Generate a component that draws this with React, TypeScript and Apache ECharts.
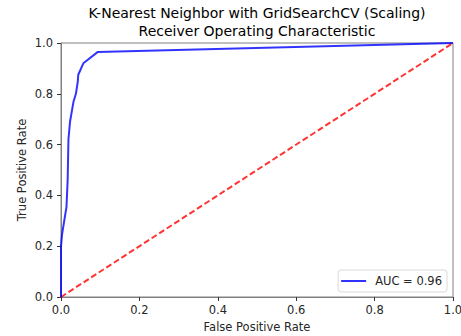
import React, { useEffect, useRef } from "react";
import * as echarts from "echarts";

// ROC curve of the tuned K-NN classifier
const fpr = [0, 0, 0.003, 0.014, 0.017, 0.019, 0.023, 0.032, 0.038, 0.043, 0.044, 0.057, 0.094, 1];
const tpr = [0, 0.2, 0.25, 0.355, 0.46, 0.62, 0.69, 0.77, 0.8, 0.85, 0.875, 0.92, 0.965, 1];
const chanceLine = [
  [0, 0],
  [1, 1],
];
const aucLabel = "AUC = 0.96";
const titleLines = ["K-Nearest Neighbor with GridSearchCV (Scaling)", "Receiver Operating Characteristic"];

const FONT = "DejaVu Sans";

export default function App() {
  const ref = useRef<HTMLDivElement>(null);

  useEffect(() => {
    if (!ref.current) return;
    const chart = echarts.init(ref.current, undefined, { renderer: "svg" });
    const rocData = fpr.map((x, i) => [x, tpr[i]]);
    const axisCommon = {
      type: "value" as const,
      min: 0,
      max: 1,
      interval: 0.2,
      axisLine: { show: true, lineStyle: { color: "#808080", width: 1 } },
      axisTick: { show: true, length: 4, lineStyle: { color: "#333" } },
      splitLine: { show: false },
      nameLocation: "middle" as const,
      nameTextStyle: { color: "#262626", fontFamily: FONT, fontSize: 11.5 },
    };
    const labelStyle = {
      color: "#262626",
      fontFamily: FONT,
      fontSize: 11.5,
      formatter: (v: number) => v.toFixed(1),
    };
    chart.setOption({
      animation: false,
      backgroundColor: "#fff",
      grid: {
        left: 61,
        top: 43,
        right: 8,
        bottom: 39,
        show: true,
        borderColor: "#808080",
        borderWidth: 1,
        containLabel: false,
        outerBoundsMode: "none",
      },
      graphic: [
        {
          type: "text",
          x: 257,
          y: 13,
          style: {
            text: titleLines[0],
            fill: "#000",
            font: `14px "${FONT}"`,
            textAlign: "center",
            textVerticalAlign: "middle",
          },
        },
        {
          type: "text",
          x: 257,
          y: 31,
          style: {
            text: titleLines[1],
            fill: "#000",
            font: `14px "${FONT}"`,
            textAlign: "center",
            textVerticalAlign: "middle",
          },
        },
      ],
      xAxis: {
        ...axisCommon,
        axisLabel: { ...labelStyle, margin: 7 },
        name: "False Positive Rate",
        nameGap: 23,
      },
      yAxis: {
        ...axisCommon,
        axisLabel: { ...labelStyle, margin: 8 },
        name: "True Positive Rate",
        nameGap: 33,
        nameMoveOverlap: false,
      },
      legend: {
        right: 14,
        bottom: 44,
        data: [{ name: aucLabel, icon: "rect" }],
        itemWidth: 25,
        itemHeight: 2,
        itemGap: 6,
        padding: [5, 5, 5, 3],
        borderColor: "#d9d9d9",
        borderWidth: 1,
        borderRadius: 3,
        backgroundColor: "#fff",
        textStyle: { color: "#262626", fontFamily: FONT, fontSize: 11.5, padding: [0, 0, 0, 4] },
      },
      series: [
        {
          name: aucLabel,
          type: "line",
          data: rocData,
          symbol: "none",
          lineStyle: { color: "rgba(0,0,255,0.8)", width: 2 },
          itemStyle: { color: "rgba(0,0,255,0.8)" },
          z: 3,
        },
        {
          name: "chance",
          type: "line",
          data: chanceLine,
          symbol: "none",
          lineStyle: { color: "rgba(255,0,0,0.8)", width: 2, type: [6, 3] },
          z: 2,
        },
      ],
    });
    return () => chart.dispose();
  }, []);

  return (
    <div
      ref={ref}
      style={{ position: "absolute", left: 0, top: 0, width: 461, height: 336 }}
    />
  );
}
